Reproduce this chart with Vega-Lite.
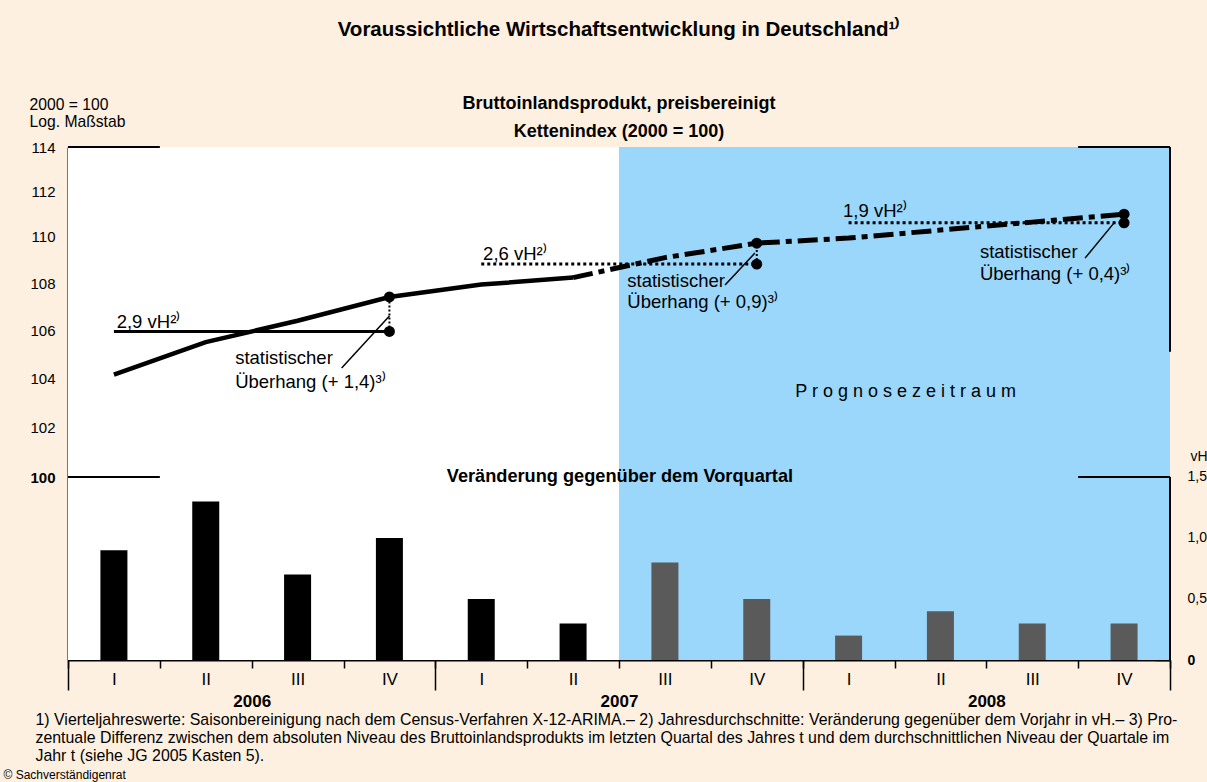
{
  "$schema": "https://vega.github.io/schema/vega-lite/v6.json",
  "width": 1102,
  "height": 513,
  "autosize": {"type": "none"},
  "padding": {"left": 68, "top": 147, "right": 37, "bottom": 122},
  "background": "#FDF0E0",
  "config": {
    "font": "Liberation Sans",
    "view": {"stroke": null},
    "axis": {"labelColor": "black", "titleColor": "black", "tickColor": "black", "domainColor": "black", "grid": false, "zindex": 1}
  },
  "title": {
    "text": "Voraussichtliche Wirtschaftsentwicklung in Deutschland¹⁾",
    "subtitle": ["Bruttoinlandsprodukt, preisbereinigt", "Kettenindex (2000 = 100)"],
    "fontSize": 20.5,
    "fontWeight": "bold",
    "color": "black",
    "subtitleFontSize": 18,
    "subtitleFontWeight": "bold",
    "subtitleColor": "black",
    "subtitleLineHeight": 28,
    "subtitlePadding": 55,
    "offset": -45,
    "anchor": "middle",
    "frame": "group"
  },
  "datasets": {
    "zonen": [
      {"von": 0, "bis": 6, "zone": "Ist"},
      {"von": 6, "bis": 12, "zone": "Prognose"}
    ],
    "vorquartal": [
      {"quartal": "2006 I", "q": 0.5, "vh": 0.9, "phase": "Ist"},
      {"quartal": "2006 II", "q": 1.5, "vh": 1.3, "phase": "Ist"},
      {"quartal": "2006 III", "q": 2.5, "vh": 0.7, "phase": "Ist"},
      {"quartal": "2006 IV", "q": 3.5, "vh": 1.0, "phase": "Ist"},
      {"quartal": "2007 I", "q": 4.5, "vh": 0.5, "phase": "Ist"},
      {"quartal": "2007 II", "q": 5.5, "vh": 0.3, "phase": "Ist"},
      {"quartal": "2007 III", "q": 6.5, "vh": 0.8, "phase": "Prognose"},
      {"quartal": "2007 IV", "q": 7.5, "vh": 0.5, "phase": "Prognose"},
      {"quartal": "2008 I", "q": 8.5, "vh": 0.2, "phase": "Prognose"},
      {"quartal": "2008 II", "q": 9.5, "vh": 0.4, "phase": "Prognose"},
      {"quartal": "2008 III", "q": 10.5, "vh": 0.3, "phase": "Prognose"},
      {"quartal": "2008 IV", "q": 11.5, "vh": 0.3, "phase": "Prognose"}
    ],
    "bip_ist": [
      {"quartal": "2006 I", "q": 0.5, "idx": 104.15},
      {"quartal": "2006 II", "q": 1.5, "idx": 105.5},
      {"quartal": "2006 III", "q": 2.5, "idx": 106.4},
      {"quartal": "2006 IV", "q": 3.5, "idx": 107.41},
      {"quartal": "2007 I", "q": 4.5, "idx": 107.94},
      {"quartal": "2007 II", "q": 5.5, "idx": 108.24}
    ],
    "bip_prognose": [
      {"quartal": "2007 II", "q": 5.5, "idx": 108.24},
      {"quartal": "2007 III", "q": 6.5, "idx": 109.1},
      {"quartal": "2007 IV", "q": 7.5, "idx": 109.73},
      {"quartal": "2008 I", "q": 8.5, "idx": 109.95},
      {"quartal": "2008 II", "q": 9.5, "idx": 110.3},
      {"quartal": "2008 III", "q": 10.5, "idx": 110.65},
      {"quartal": "2008 IV", "q": 11.5, "idx": 111.0}
    ],
    "durchschnitt": [
      {"jahr": "2006", "q": 0.5, "idx": 105.95},
      {"jahr": "2006", "q": 3.5, "idx": 105.95},
      {"jahr": "2007", "q": 4.5, "idx": 108.82},
      {"jahr": "2007", "q": 7.5, "idx": 108.82},
      {"jahr": "2008", "q": 8.5, "idx": 110.62},
      {"jahr": "2008", "q": 11.5, "idx": 110.62}
    ],
    "ueberhang": [
      {"jahr": "2006", "q": 3.5, "mittel": 105.95, "ende": 107.41},
      {"jahr": "2007", "q": 7.5, "mittel": 108.82, "ende": 109.73},
      {"jahr": "2008", "q": 11.5, "mittel": 110.62, "ende": 111.0}
    ],
    "punkte": [
      {"q": 3.5, "idx": 107.41},
      {"q": 3.5, "idx": 105.95},
      {"q": 7.5, "idx": 109.73},
      {"q": 7.5, "idx": 108.82},
      {"q": 11.5, "idx": 111.0},
      {"q": 11.5, "idx": 110.62}
    ],
    "hinweis": [
      {"q1": 2.98, "y1": 104.42, "q2": 3.5, "y2": 106.6},
      {"q1": 7.155, "y1": 107.92, "q2": 7.48, "y2": 109.3},
      {"q1": 11.075, "y1": 109.08, "q2": 11.4, "y2": 110.66}
    ],
    "texte": [
      {"q": 0.53, "idx": 106.09, "text": "2,9 vH²⁾"},
      {"q": 4.52, "idx": 109.0, "text": "2,6 vH²⁾"},
      {"q": 8.44, "idx": 110.88, "text": "1,9 vH²⁾"},
      {"q": 1.82, "idx": 104.59, "text": "statistischer"},
      {"q": 1.82, "idx": 103.6, "text": "Überhang  (+ 1,4)³⁾"},
      {"q": 6.09, "idx": 107.84, "text": "statistischer"},
      {"q": 6.09, "idx": 106.94, "text": "Überhang  (+ 0,9)³⁾"},
      {"q": 9.93, "idx": 109.08, "text": "statistischer"},
      {"q": 9.93, "idx": 108.14, "text": "Überhang  (+ 0,4)³⁾"}
    ],
    "rahmen": [
      {"von": 0, "bis": 1, "idx": 114},
      {"von": 0, "bis": 1, "idx": 100},
      {"von": 11, "bis": 12, "idx": 114},
      {"von": 11, "bis": 12, "idx": 100}
    ]
  },
  "layer": [
    {
      "layer": [
        {
          "data": {"name": "zonen"},
          "mark": {"type": "rect"},
          "encoding": {
            "x": {"field": "von", "type": "quantitative", "scale": {"domain": [0, 12], "nice": false, "zero": false, "padding": 0}},
            "x2": {"field": "bis"},
            "fill": {"field": "zone", "type": "nominal", "scale": {"domain": ["Ist", "Prognose"], "range": ["#FFFFFF", "#9AD7FB"]}, "legend": null}
          }
        },
        {
          "data": {"name": "vorquartal"},
          "mark": {"type": "bar", "width": 27},
          "encoding": {
            "x": {
              "field": "q", "type": "quantitative",
              "scale": {"domain": [0, 12], "nice": false, "zero": false, "padding": 0},
              "axis": {
                "orient": "bottom",
                "values": [0, 1, 2, 3, 4, 5, 6, 7, 8, 9, 10, 11, 12],
                "labelExpr": "datum.value >= 12 ? '' : (datum.value % 4 == 0 ? 'I' : datum.value % 4 == 1 ? 'II' : datum.value % 4 == 2 ? 'III' : 'IV')",
                "labelOffset": 45.92,
                "labelFlush": false,
                "labelOverlap": false,
                "labelBound": false,
                "labelFontSize": 17,
                "labelPadding": 3,
                "tickSize": 8,
                "tickWidth": 1.5,
                "domain": true,
                "domainWidth": 2,
                "title": "© Sachverständigenrat",
                "titleX": -65,
                "titleY": 118,
                "titleAlign": "left",
                "titleBaseline": "alphabetic",
                "titleFontSize": 12,
                "titleFontWeight": "normal"
              }
            },
            "y": {
              "field": "vh", "type": "quantitative",
              "scale": {"domain": [0, 4.2049], "nice": false, "zero": true, "padding": 0},
              "axis": {
                "orient": "right",
                "values": [0, 0.5, 1, 1.5],
                "labelExpr": "datum.value == 0 ? '0' : replace(format(datum.value, '.1f'), '.', ',')",
                "labelFontWeight": {"condition": {"test": "datum.value == 0", "value": "bold"}, "value": "normal"},
                "labelAlign": "left",
                "labelFontSize": 14,
                "labelPadding": 32,
                "tickSize": -15,
                "tickWidth": 1.5,
                "domain": false,
                "title": "vH",
                "titleAngle": 0,
                "titleX": 20,
                "titleY": 313,
                "titleAlign": "left",
                "titleBaseline": "alphabetic",
                "titleFontSize": 14,
                "titleFontWeight": "normal"
              }
            },
            "color": {"field": "phase", "type": "nominal", "scale": {"domain": ["Ist", "Prognose"], "range": ["#000000", "#5A5A5A"]}, "legend": null}
          }
        },
        {
          "data": {"values": [{"q": 12, "von": 0, "bis": 1.5}]},
          "mark": {"type": "rule", "color": "black", "strokeWidth": 2},
          "encoding": {
            "x": {"field": "q", "type": "quantitative", "scale": {"domain": [0, 12], "nice": false, "zero": false, "padding": 0}},
            "y": {"field": "von", "type": "quantitative", "scale": {"domain": [0, 4.2049], "nice": false, "zero": true, "padding": 0}},
            "y2": {"field": "bis"}
          }
        },
        {
          "data": {"values": [{"q": 6.01, "vh": 1.455, "text": "Veränderung gegenüber dem Vorquartal"}]},
          "mark": {"type": "text", "align": "center", "baseline": "alphabetic", "fontSize": 18.2, "fontWeight": "bold", "color": "black"},
          "encoding": {
            "x": {"field": "q", "type": "quantitative", "scale": {"domain": [0, 12], "nice": false, "zero": false, "padding": 0}},
            "y": {"field": "vh", "type": "quantitative", "scale": {"domain": [0, 4.2049], "nice": false, "zero": true, "padding": 0}},
            "text": {"field": "text"}
          }
        }
      ]
    },
    {
      "layer": [
        {
          "data": {"name": "rahmen"},
          "mark": {"type": "rule", "color": "black", "strokeWidth": 2},
          "encoding": {
            "x": {"field": "von", "type": "quantitative", "scale": {"domain": [0, 12], "nice": false, "zero": false, "padding": 0}},
            "x2": {"field": "bis"},
            "y": {
              "field": "idx", "type": "quantitative",
              "scale": {"type": "log", "domain": [92.992, 114], "nice": false, "padding": 0},
              "axis": {
                "orient": "left",
                "values": [100, 102, 104, 106, 108, 110, 112, 114],
                "format": "d",
                "labelFontSize": 15,
                "labelFontWeight": {"condition": {"test": "datum.value == 100", "value": "bold"}, "value": "normal"},
                "labelPadding": 28,
                "tickSize": -15,
                "tickWidth": 1.5,
                "domain": true,
                "domainWidth": 2,
                "title": ["2000 = 100", "Log. Maßstab"],
                "titleAngle": 0,
                "titleX": -39,
                "titleY": -38,
                "titleAlign": "left",
                "titleBaseline": "alphabetic",
                "titleFontSize": 15.7,
                "titleFontWeight": "normal",
                "titleLineHeight": 17
              }
            }
          }
        },
        {
          "data": {"values": [{"q": 12, "von": 105.1, "bis": 114}]},
          "mark": {"type": "rule", "color": "black", "strokeWidth": 2},
          "encoding": {
            "x": {"field": "q", "type": "quantitative", "scale": {"domain": [0, 12], "nice": false, "zero": false, "padding": 0}},
            "y": {"field": "von", "type": "quantitative", "scale": {"type": "log", "domain": [92.992, 114], "nice": false, "padding": 0}},
            "y2": {"field": "bis"}
          }
        },
        {
          "data": {"name": "durchschnitt"},
          "mark": {"type": "line", "color": "black", "strokeWidth": 3},
          "encoding": {
            "x": {"field": "q", "type": "quantitative", "scale": {"domain": [0, 12], "nice": false, "zero": false, "padding": 0}},
            "y": {"field": "idx", "type": "quantitative", "scale": {"type": "log", "domain": [92.992, 114], "nice": false, "padding": 0}},
            "detail": {"field": "jahr", "type": "nominal"},
            "strokeDash": {"field": "jahr", "type": "nominal", "scale": {"domain": ["2006", "2007", "2008"], "range": [[1, 0], [3, 3], [3, 3]]}, "legend": null}
          }
        },
        {
          "data": {"name": "ueberhang"},
          "mark": {"type": "rule", "color": "black", "strokeWidth": 2, "strokeDash": [2, 2]},
          "encoding": {
            "x": {"field": "q", "type": "quantitative", "scale": {"domain": [0, 12], "nice": false, "zero": false, "padding": 0}},
            "y": {"field": "mittel", "type": "quantitative", "scale": {"type": "log", "domain": [92.992, 114], "nice": false, "padding": 0}},
            "y2": {"field": "ende"}
          }
        },
        {
          "data": {"name": "bip_ist"},
          "mark": {"type": "line", "color": "black", "strokeWidth": 4.5},
          "encoding": {
            "x": {
              "field": "q", "type": "quantitative",
              "scale": {"domain": [0, 12], "nice": false, "zero": false, "padding": 0},
              "axis": {
                "orient": "bottom",
                "values": [0, 4, 8, 12],
                "labelExpr": "datum.value == 0 ? '2006' : datum.value == 4 ? '2007' : datum.value == 8 ? '2008' : ''",
                "labelOffset": 183.67,
                "labelFlush": false,
                "labelOverlap": false,
                "labelBound": false,
                "labelFontSize": 17,
                "labelFontWeight": "bold",
                "labelPadding": 3,
                "tickSize": 30,
                "tickWidth": 1.5,
                "domain": false,
                "title": [
                  "1) Vierteljahreswerte: Saisonbereinigung nach dem Census-Verfahren X-12-ARIMA.– 2) Jahresdurchschnitte: Veränderung gegenüber dem Vorjahr in vH.– 3) Pro-",
                  "zentuale Differenz zwischen dem absoluten Niveau des Bruttoinlandsprodukts im letzten Quartal des Jahres t und dem durchschnittlichen Niveau der Quartale im",
                  "Jahr t (siehe JG 2005 Kasten 5)."
                ],
                "titleX": -33,
                "titleY": 64,
                "titleAlign": "left",
                "titleBaseline": "alphabetic",
                "titleLineHeight": 18,
                "titleFontSize": 15.9,
                "titleFontWeight": "normal"
              }
            },
            "y": {"field": "idx", "type": "quantitative", "scale": {"type": "log", "domain": [92.992, 114], "nice": false, "padding": 0}}
          }
        },
        {
          "data": {"name": "bip_prognose"},
          "mark": {"type": "line", "color": "black", "strokeWidth": 5, "strokeDash": [20, 6, 6, 6]},
          "encoding": {
            "x": {"field": "q", "type": "quantitative", "scale": {"domain": [0, 12], "nice": false, "zero": false, "padding": 0}},
            "y": {"field": "idx", "type": "quantitative", "scale": {"type": "log", "domain": [92.992, 114], "nice": false, "padding": 0}}
          }
        },
        {
          "data": {"name": "punkte"},
          "mark": {"type": "point", "shape": "circle", "filled": true, "color": "black", "size": 120, "opacity": 1},
          "encoding": {
            "x": {"field": "q", "type": "quantitative", "scale": {"domain": [0, 12], "nice": false, "zero": false, "padding": 0}},
            "y": {"field": "idx", "type": "quantitative", "scale": {"type": "log", "domain": [92.992, 114], "nice": false, "padding": 0}}
          }
        },
        {
          "data": {"name": "hinweis"},
          "mark": {"type": "rule", "color": "black", "strokeWidth": 1.5},
          "encoding": {
            "x": {"field": "q1", "type": "quantitative", "scale": {"domain": [0, 12], "nice": false, "zero": false, "padding": 0}},
            "x2": {"field": "q2"},
            "y": {"field": "y1", "type": "quantitative", "scale": {"type": "log", "domain": [92.992, 114], "nice": false, "padding": 0}},
            "y2": {"field": "y2"}
          }
        },
        {
          "data": {"name": "texte"},
          "mark": {"type": "text", "align": "left", "baseline": "alphabetic", "fontSize": 18.5, "color": "black"},
          "encoding": {
            "x": {"field": "q", "type": "quantitative", "scale": {"domain": [0, 12], "nice": false, "zero": false, "padding": 0}},
            "y": {"field": "idx", "type": "quantitative", "scale": {"type": "log", "domain": [92.992, 114], "nice": false, "padding": 0}},
            "text": {"field": "text"}
          }
        },
        {
          "data": {"values": [{"q": 7.92, "idx": 103.23, "text": "P r o g n o s e z e i t r a u m"}]},
          "mark": {"type": "text", "align": "left", "baseline": "alphabetic", "fontSize": 18, "color": "black"},
          "encoding": {
            "x": {"field": "q", "type": "quantitative", "scale": {"domain": [0, 12], "nice": false, "zero": false, "padding": 0}},
            "y": {"field": "idx", "type": "quantitative", "scale": {"type": "log", "domain": [92.992, 114], "nice": false, "padding": 0}},
            "text": {"field": "text"}
          }
        }
      ]
    }
  ],
  "resolve": {"scale": {"y": "independent"}, "axis": {"x": "independent", "y": "independent"}}
}
